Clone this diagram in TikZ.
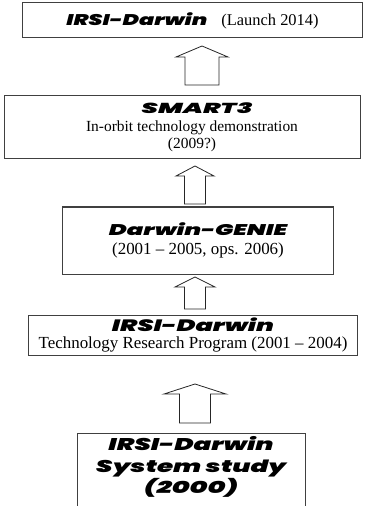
\documentclass[tikz,border=0pt]{standalone}
\usepackage{graphicx}
\usepackage{fontspec}
\setmainfont{Liberation Serif}
\newfontfamily\heavyfont{Poppins Black Italic}
\usetikzlibrary{positioning}

% heavy title word: width, size, text
\newcommand{\heavy}[3]{\resizebox{#1}{\height}{\heavyfont\fontsize{#2}{#2}\selectfont #3}}
% hollow up arrow: x, y bottom, y tip, shaft half, head half, head length
\newcommand{\hollowarrow}[6]{%
  \draw[arrowline] (#1-#4,#2) -- (#1-#4,#3+#6) -- (#1-#5,#3+#6) -- (#1,#3)
    -- (#1+#5,#3+#6) -- (#1+#4,#3+#6) -- (#1+#4,#2) -- cycle;}

\tikzset{
  stage/.style={draw=black!75, line width=1bp, inner sep=0pt, align=center},
  arrowline/.style={draw=black!85, line width=0.8bp, line join=miter},
}

\begin{document}
\begin{tikzpicture}[x=1bp,y=-1bp]
  \useasboundingbox (0,0) rectangle (372,506);

  \node[stage, minimum width=339bp, minimum height=35bp,
    font=\fontsize{16.5}{18}\selectfont] (launch) at (192.5,20.5)
    {\heavy{141bp}{15.5}{IRSI-Darwin}\hspace{14bp}(Launch 2014)};
  \node[stage, minimum width=355bp, minimum height=63bp] (smart) at (182.5,127.5) {};
  \node[align=center, inner sep=0pt, font=\fontsize{15.5}{17.5}\selectfont] (smarttext) at (192,127.5)
    {\hspace*{10bp}\heavy{111bp}{14.5}{SMART3}\\In-orbit technology demonstration\\(2009?)};
  \node[stage, minimum width=270bp, minimum height=67bp,
    font=\fontsize{17}{18.5}\selectfont] (genie) at (198,240.5)
    {\heavy{178bp}{15.5}{Darwin-GENIE}\\(2001 -- 2005, ops. 2006)};
  \node[stage, minimum width=328bp, minimum height=40bp,
    font=\fontsize{17}{17.5}\selectfont] (research) at (193,335)
    {\heavy{162bp}{16.5}{IRSI-Darwin}\\Technology Research Program (2001 -- 2004)};
  \node[stage, anchor=north, minimum width=228bp, minimum height=140bp] (study) at (191,433) {};
  \node[align=center, inner sep=0pt, font=\fontsize{17}{21.5}\selectfont] (studytext) at (191,467)
    {\heavy{165bp}{17}{IRSI-Darwin}\\\heavy{190bp}{17}{System study}\\\heavy{94bp}{17}{(2000)}};

  \hollowarrow{202}{85}{46}{17}{26}{11}
  \hollowarrow{195}{204}{166}{10.5}{19}{10}
  \hollowarrow{195}{309}{277}{10.5}{20}{10}
  \hollowarrow{195}{423}{384}{15.5}{31}{10}
\end{tikzpicture}
\end{document}
